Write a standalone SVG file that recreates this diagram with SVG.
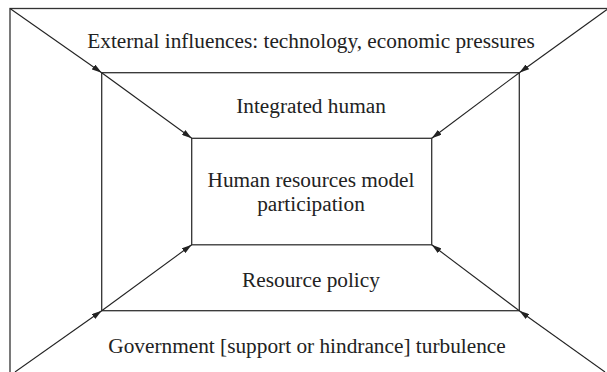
<svg xmlns="http://www.w3.org/2000/svg" width="607" height="372" viewBox="0 0 607 372">
<style>
.box{fill:none;stroke:#333;stroke-width:1.3}
.ln{fill:none;stroke:#222;stroke-width:1.1}
.t{font-family:"Liberation Serif","Times New Roman",serif;font-size:21.3px;fill:#222;text-anchor:middle}
</style>
<defs>
<marker id="ah" viewBox="0 0 10 6" refX="10" refY="3" markerWidth="10" markerHeight="6" markerUnits="userSpaceOnUse" orient="auto">
<path d="M0,0 L10,3 L0,6 Z" fill="#222"/>
</marker>
</defs>
<rect width="607" height="372" fill="#fff"/>
<g id="outer">
<rect class="box" x="10" y="8.5" width="620" height="400"/>
<text class="t" x="311" y="47.5">External influences: technology, economic pressures</text>
<text class="t" x="307" y="352.5">Government [support or hindrance] turbulence</text>
</g>
<g id="middle">
<rect class="box" x="101.7" y="72.7" width="417.6" height="238"/>
<text class="t" x="311" y="113">Integrated human</text>
<text class="t" x="311" y="286.5">Resource policy</text>
</g>
<g id="inner">
<rect class="box" x="191.7" y="138.3" width="240" height="106.5"/>
<text class="t" x="311" y="187">Human resources model</text>
<text class="t" x="311" y="210.5">participation</text>
</g>
<g id="connectors">
<path class="ln" d="M10,8.5 L101.7,72.7" marker-end="url(#ah)"/>
<path class="ln" d="M101.7,72.7 L191.7,138.3" marker-end="url(#ah)"/>
<path class="ln" d="M607,9.5 L519.3,72.7" marker-end="url(#ah)"/>
<path class="ln" d="M519.3,72.7 L431.7,138.3" marker-end="url(#ah)"/>
<path class="ln" d="M15,372 L101.7,310.7" marker-end="url(#ah)"/>
<path class="ln" d="M101.7,310.7 L191.7,244.8" marker-end="url(#ah)"/>
<path class="ln" d="M605,372 L519.3,310.7" marker-end="url(#ah)"/>
<path class="ln" d="M519.3,310.7 L431.7,244.8" marker-end="url(#ah)"/>
</g>
</svg>
